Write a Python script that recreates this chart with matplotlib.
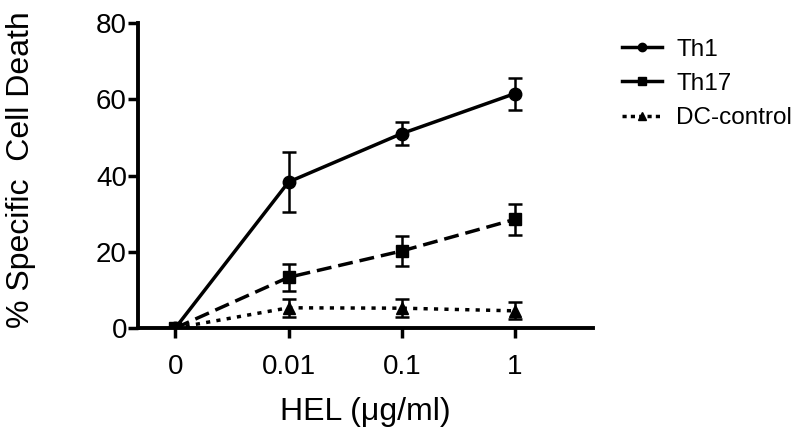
import matplotlib
matplotlib.use("Agg")
import matplotlib.pyplot as plt
from matplotlib.lines import Line2D
import numpy as np

plt.rcParams['font.family'] = ['Liberation Sans', 'DejaVu Sans']

categories = ["0", "0.01", "0.1", "1"]
th1 = [0, 38.3, 51.0, 61.5]
th1_err = [0, 7.8, 3.0, 4.2]
th17 = [0, 13.3, 20.2, 28.5]
th17_err = [0, 3.6, 4.0, 4.0]
dc = [0, 5.3, 5.2, 4.5]
dc_err = [0, 2.3, 2.3, 2.2]

fig = plt.figure(figsize=(8, 4.36), dpi=100)
ax = fig.add_axes([0.1725, 0.2477, 0.5688, 0.6995])
x = np.arange(len(categories))

lw = 2.5
common = dict(color='black', elinewidth=1.8, capsize=5.2, capthick=1.8, lw=lw)
ax.errorbar(x, th1, yerr=th1_err, fmt='-o', ms=9, **common)
ax.errorbar(x, th17, yerr=th17_err, fmt='--s', ms=8, dashes=(4.3, 2.0), **common)
ax.errorbar(x, dc, yerr=dc_err, fmt=':^', ms=8, dashes=(1.2, 1.8), **common)

ax.set_xlim(-0.33, 3.69)
ax.set_ylim(0, 80)
ax.set_xticks(x)
ax.set_xticklabels(categories)
ax.set_yticks([0, 20, 40, 60, 80])
for s in ['top', 'right']:
    ax.spines[s].set_visible(False)
for s in ['left', 'bottom']:
    ax.spines[s].set_linewidth(2.8)
    ax.spines[s].set_clip_on(False)
ax.tick_params(axis='both', width=2.5, length=7, labelsize=20, direction='out')
ax.tick_params(axis='y', pad=1)
ax.tick_params(axis='x', pad=12)
ax.set_ylabel('% Specific  Cell Death', fontsize=23)
ax.yaxis.set_label_coords(-0.225, 0.52)
ax.set_xlabel('HEL (\u03bcg/ml)', fontsize=23, labelpad=12)

handles = [
    Line2D([], [], color='black', lw=lw, marker='o', ms=6),
    Line2D([], [], color='black', lw=lw, marker='s', ms=6),
    Line2D([], [], color='black', lw=lw, marker='^', ms=6, dashes=(1.2, 1.2)),
]
labels = ['Th1', 'Th17', 'DC-control']
ax.legend(handles, labels, loc='upper left', bbox_to_anchor=(1.015, 1.02), frameon=False,
          fontsize=17.5, handlelength=1.65, handletextpad=0.6, labelspacing=0.5)

fig.savefig('out.png', dpi=100)
